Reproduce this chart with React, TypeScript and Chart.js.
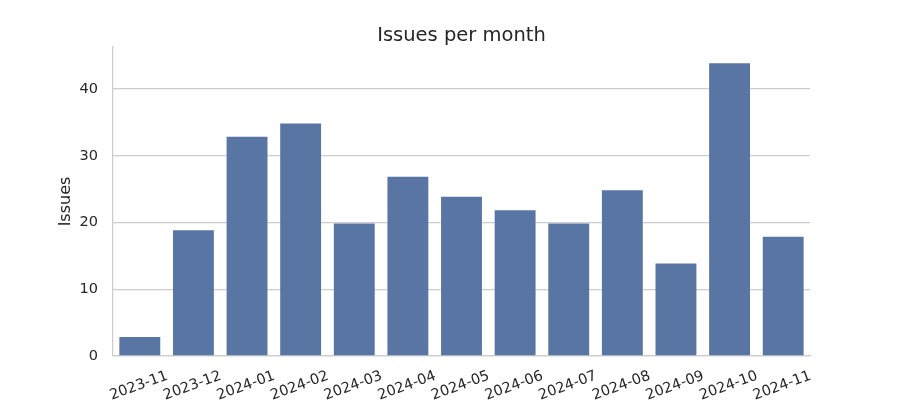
import React, { useEffect, useRef } from "react";
import { Chart, registerables } from "chart.js";

Chart.register(...registerables);

const months = [
  "2023-11", "2023-12", "2024-01", "2024-02", "2024-03", "2024-04", "2024-05",
  "2024-06", "2024-07", "2024-08", "2024-09", "2024-10", "2024-11",
];
const issues = [3, 19, 33, 35, 20, 27, 24, 22, 20, 25, 14, 44, 18];
const yTicks = [0, 10, 20, 30, 40];
const chartTitle = "Issues per month";

const FONT = '"DejaVu Sans", sans-serif';
const TEXT = "#262626";
const GRID = "#cccccc";
const TICK_SIZE = 14.5;

const textPlugin = {
  id: "mplText",
  afterDraw(chart: any) {
    const { ctx, chartArea } = chart;
    const x = chart.scales.x;
    const ang = (20 * Math.PI) / 180;
    ctx.save();
    // title centred over the plot area
    ctx.font = `19.5px ${FONT}`;
    ctx.fillStyle = TEXT;
    ctx.textAlign = "center";
    ctx.textBaseline = "middle";
    ctx.fillText(chartTitle, (chartArea.left + chartArea.right) / 2, 35.5);
    // rotated, centre-aligned x tick labels
    ctx.font = `${TICK_SIZE}px ${FONT}`;
    months.forEach((m, i) => {
      const px = x.getPixelForValue(i);
      const w = ctx.measureText(m).width;
      const h = TICK_SIZE * 1.17;
      const boxH = w * Math.sin(ang) + h * Math.cos(ang);
      const cy = x.top + 11.5 + boxH / 2;
      ctx.save();
      ctx.translate(px - 1, cy);
      ctx.rotate(-ang);
      ctx.fillText(m, 0, 0);
      ctx.restore();
    });
    ctx.restore();
  },
};

export default function App() {
  const ref = useRef<HTMLCanvasElement>(null);
  useEffect(() => {
    if (!ref.current) return;
    const chart = new Chart(ref.current, {
      type: "bar",
      data: {
        labels: months,
        datasets: [
          {
            label: "Issues",
            data: issues,
            backgroundColor: "#5875a4",
            borderColor: "rgba(255,255,255,0.25)",
            borderWidth: 1,
            categoryPercentage: 1,
            barPercentage: 0.8,
          },
        ],
      },
      options: {
        responsive: false,
        animation: false,
        layout: { padding: { left: 0, right: 90, top: 47, bottom: 0 } },
        plugins: {
          legend: { display: false },
          tooltip: { enabled: false },
          title: { display: false },
        },
        scales: {
          x: {
            grid: { display: false },
            border: { display: true, color: GRID, width: 1.25 },
            ticks: { display: false },
            afterFit: (s: any) => {
              s.height = 44;
            },
          },
          y: {
            min: 0,
            max: 46.3,
            grid: { color: GRID, lineWidth: 1.25, drawTicks: false },
            border: { display: true, color: GRID, width: 1.25 },
            ticks: {
              includeBounds: false,
              stepSize: 10,
              padding: 15,
              color: TEXT,
              font: { family: FONT, size: TICK_SIZE },
            },
            afterBuildTicks: (s: any) => {
              s.ticks = yTicks.map((v) => ({ value: v }));
            },
            title: {
              display: true,
              text: "Issues",
              color: TEXT,
              font: { family: FONT, size: 16 },
              padding: { top: 56, bottom: 0 },
            },
            afterFit: (s: any) => {
              s.width = 113;
            },
          },
        },
      },
      plugins: [textPlugin],
    });
    return () => chart.destroy();
  }, []);
  return (
    <div style={{ position: "fixed", left: 0, top: 0, width: 900, height: 400, background: "#fff" }}>
      <canvas ref={ref} width={900} height={400} />
    </div>
  );
}
